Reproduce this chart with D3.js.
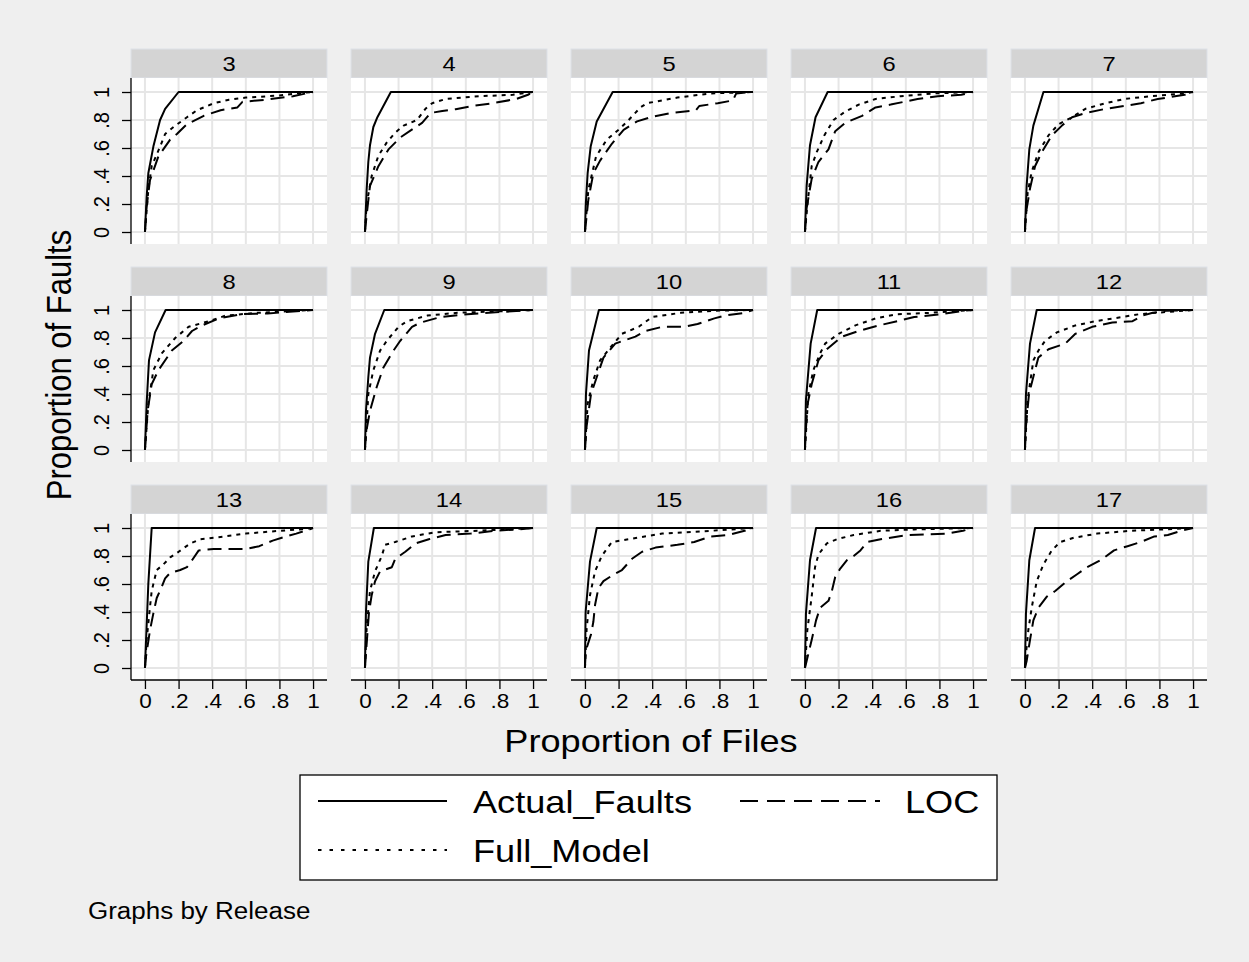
<!DOCTYPE html>
<html>
<head>
<meta charset="utf-8">
<script src="https://cdn.jsdelivr.net/npm/d3@7"></script>
<style>
  html, body { margin: 0; padding: 0; background: #efefef; }
  svg { display: block; }
  text { font-family: "Liberation Sans", Arial, Helvetica, sans-serif; fill: #000; }
</style>
</head>
<body>
<svg id="chart" width="1249" height="962"></svg>
<script>
// ---------------- DATA ----------------
const releases = ["3","4","5","6","7","8","9","10","11","12","13","14","15","16","17"];
const seriesNames = ["Actual_Faults", "Full_Model", "LOC"];
const xTickValues = [0, 0.2, 0.4, 0.6, 0.8, 1];
const xTickLabels = ["0", ".2", ".4", ".6", ".8", "1"];
const yTickValues = [0, 0.2, 0.4, 0.6, 0.8, 1];
const yTickLabels = ["0", ".2", ".4", ".6", ".8", "1"];

// [proportion of files, proportion of faults] per release
const actualFaults = [
  [[0,0],[0.01,0.25],[0.02,0.42],[0.05,0.61],[0.09,0.8],[0.12,0.88],[0.2,1],[1,1]],
  [[0,0],[0.01,0.3],[0.02,0.5],[0.03,0.62],[0.05,0.75],[0.074,0.82],[0.154,1],[1,1]],
  [[0,0],[0.005,0.2],[0.016,0.42],[0.034,0.61],[0.07,0.79],[0.165,1],[1,1]],
  [[0,0],[0.01,0.33],[0.03,0.62],[0.063,0.82],[0.135,1],[1,1]],
  [[0,0],[0.01,0.33],[0.026,0.59],[0.05,0.76],[0.11,1],[1,1]],
  [[0,0],[0.01,0.33],[0.024,0.64],[0.06,0.84],[0.123,1],[1,1]],
  [[0,0],[0.006,0.28],[0.02,0.52],[0.03,0.66],[0.06,0.83],[0.115,1],[1,1]],
  [[0,0],[0.006,0.4],[0.024,0.71],[0.083,1],[1,1]],
  [[0,0],[0.006,0.36],[0.034,0.76],[0.073,1],[1,1]],
  [[0,0],[0.006,0.4],[0.03,0.76],[0.07,1],[1,1]],
  [[0,0],[0.02,0.6],[0.04,1],[1,1]],
  [[0,0],[0.006,0.4],[0.02,0.76],[0.053,1],[1,1]],
  [[0,0],[0.004,0.4],[0.03,0.76],[0.07,1],[1,1]],
  [[0,0],[0.006,0.39],[0.03,0.77],[0.066,1],[1,1]],
  [[0,0],[0.006,0.39],[0.026,0.77],[0.06,1],[1,1]]
];
const fullModel = [
  [[0,0],[0.01,0.15],[0.02,0.3],[0.04,0.47],[0.09,0.61],[0.12,0.7],[0.17,0.75],[0.25,0.82],[0.31,0.87],[0.41,0.92],[0.5,0.945],[0.6,0.96],[0.8,0.975],[0.9,0.99],[1,1]],
  [[0,0],[0.01,0.2],[0.04,0.4],[0.08,0.545],[0.13,0.64],[0.18,0.71],[0.23,0.76],[0.31,0.8],[0.36,0.88],[0.4,0.92],[0.48,0.95],[0.68,0.97],[0.88,0.98],[1,1]],
  [[0,0],[0.01,0.15],[0.02,0.3],[0.066,0.54],[0.13,0.66],[0.2,0.73],[0.26,0.8],[0.33,0.89],[0.37,0.92],[0.55,0.96],[0.75,0.99],[1,1]],
  [[0,0],[0.016,0.21],[0.04,0.47],[0.07,0.57],[0.115,0.69],[0.17,0.8],[0.24,0.86],[0.32,0.91],[0.42,0.95],[0.57,0.97],[0.77,0.99],[1,1]],
  [[0,0],[0.016,0.28],[0.04,0.43],[0.08,0.57],[0.14,0.69],[0.2,0.77],[0.28,0.82],[0.36,0.88],[0.48,0.92],[0.59,0.95],[0.75,0.97],[0.95,0.99],[1,1]],
  [[0,0],[0.02,0.33],[0.05,0.57],[0.1,0.69],[0.18,0.8],[0.26,0.88],[0.38,0.92],[0.48,0.96],[0.67,0.98],[1,1]],
  [[0,0],[0.006,0.1],[0.02,0.4],[0.05,0.57],[0.09,0.71],[0.13,0.78],[0.2,0.88],[0.25,0.92],[0.37,0.96],[0.55,0.98],[1,1]],
  [[0,0],[0.016,0.33],[0.05,0.5],[0.09,0.64],[0.15,0.73],[0.22,0.83],[0.32,0.88],[0.4,0.95],[0.57,0.98],[0.77,0.995],[1,1]],
  [[0,0],[0.02,0.4],[0.05,0.57],[0.09,0.69],[0.12,0.76],[0.2,0.83],[0.3,0.89],[0.42,0.94],[0.55,0.97],[0.75,0.98],[1,1]],
  [[0,0],[0.016,0.36],[0.05,0.64],[0.08,0.71],[0.12,0.78],[0.19,0.84],[0.3,0.89],[0.42,0.92],[0.58,0.95],[0.68,0.97],[0.78,0.98],[1,1]],
  [[0,0],[0.01,0.2],[0.026,0.39],[0.04,0.55],[0.07,0.7],[0.11,0.74],[0.15,0.79],[0.2,0.83],[0.27,0.89],[0.33,0.92],[0.41,0.93],[0.6,0.96],[0.8,0.98],[0.92,0.99],[1,1]],
  [[0,0],[0.01,0.28],[0.03,0.55],[0.06,0.69],[0.1,0.8],[0.12,0.88],[0.18,0.9],[0.28,0.94],[0.42,0.97],[0.67,0.98],[1,1]],
  [[0,0],[0.01,0.28],[0.03,0.52],[0.06,0.69],[0.1,0.8],[0.16,0.9],[0.26,0.92],[0.46,0.96],[0.75,0.98],[1,1]],
  [[0,0],[0.014,0.27],[0.04,0.51],[0.06,0.72],[0.08,0.81],[0.13,0.89],[0.19,0.92],[0.29,0.95],[0.45,0.98],[0.65,0.99],[1,1]],
  [[0,0],[0.006,0.1],[0.02,0.27],[0.04,0.43],[0.07,0.62],[0.11,0.74],[0.16,0.84],[0.21,0.9],[0.29,0.93],[0.43,0.96],[0.63,0.98],[0.83,0.99],[1,1]]
];
const locModel = [
  [[0,0],[0.01,0.18],[0.03,0.37],[0.08,0.54],[0.15,0.66],[0.19,0.7],[0.25,0.77],[0.35,0.83],[0.45,0.87],[0.55,0.89],[0.58,0.93],[0.72,0.945],[0.88,0.97],[1,1]],
  [[0,0],[0.01,0.12],[0.03,0.33],[0.08,0.47],[0.14,0.59],[0.21,0.675],[0.34,0.78],[0.39,0.85],[0.46,0.865],[0.54,0.877],[0.64,0.9],[0.76,0.92],[0.9,0.95],[0.97,0.98],[1,1]],
  [[0,0],[0.02,0.23],[0.05,0.42],[0.09,0.51],[0.16,0.63],[0.23,0.73],[0.31,0.79],[0.39,0.82],[0.51,0.85],[0.66,0.87],[0.68,0.9],[0.79,0.92],[0.88,0.94],[0.9,0.99],[1,1]],
  [[0,0],[0.01,0.17],[0.04,0.38],[0.08,0.5],[0.14,0.59],[0.18,0.72],[0.24,0.78],[0.34,0.83],[0.42,0.89],[0.51,0.91],[0.67,0.95],[0.79,0.97],[0.93,0.98],[1,1]],
  [[0,0],[0.004,0.12],[0.03,0.31],[0.06,0.47],[0.1,0.57],[0.16,0.69],[0.22,0.76],[0.28,0.82],[0.36,0.85],[0.48,0.88],[0.59,0.9],[0.69,0.92],[0.79,0.95],[0.95,0.98],[1,1]],
  [[0,0],[0.016,0.28],[0.04,0.47],[0.08,0.57],[0.16,0.71],[0.23,0.78],[0.28,0.85],[0.34,0.89],[0.44,0.94],[0.57,0.97],[0.73,0.975],[1,1]],
  [[0,0],[0.006,0.12],[0.03,0.28],[0.07,0.45],[0.11,0.59],[0.17,0.71],[0.21,0.78],[0.28,0.88],[0.33,0.91],[0.45,0.95],[0.61,0.97],[0.8,0.985],[1,1]],
  [[0,0],[0.01,0.17],[0.036,0.4],[0.07,0.52],[0.11,0.66],[0.18,0.76],[0.3,0.81],[0.36,0.85],[0.46,0.88],[0.59,0.88],[0.67,0.9],[0.77,0.94],[0.83,0.96],[0.95,0.98],[1,1]],
  [[0,0],[0.004,0.12],[0.016,0.33],[0.04,0.47],[0.08,0.64],[0.13,0.72],[0.22,0.81],[0.32,0.85],[0.44,0.89],[0.55,0.92],[0.65,0.95],[0.81,0.97],[0.95,0.995],[1,1]],
  [[0,0],[0.006,0.17],[0.024,0.4],[0.06,0.57],[0.08,0.66],[0.14,0.72],[0.24,0.76],[0.3,0.83],[0.4,0.88],[0.52,0.91],[0.64,0.92],[0.7,0.96],[0.76,0.98],[0.84,0.995],[1,1]],
  [[0,0],[0.006,0.08],[0.03,0.27],[0.05,0.39],[0.07,0.5],[0.1,0.58],[0.12,0.64],[0.15,0.68],[0.21,0.7],[0.25,0.72],[0.28,0.77],[0.32,0.84],[0.41,0.85],[0.6,0.85],[0.68,0.87],[0.76,0.91],[0.84,0.94],[0.9,0.96],[0.98,0.99],[1,1]],
  [[0,0],[0.01,0.17],[0.024,0.4],[0.04,0.52],[0.06,0.62],[0.09,0.69],[0.16,0.72],[0.18,0.78],[0.24,0.83],[0.3,0.89],[0.38,0.92],[0.48,0.95],[0.63,0.96],[0.77,0.98],[0.91,0.99],[1,1]],
  [[0,0],[0.004,0.12],[0.036,0.24],[0.05,0.33],[0.06,0.45],[0.08,0.57],[0.11,0.62],[0.16,0.66],[0.22,0.7],[0.28,0.78],[0.34,0.83],[0.42,0.86],[0.55,0.88],[0.65,0.9],[0.75,0.94],[0.85,0.95],[0.95,0.98],[1,1]],
  [[0,0],[0.01,0.05],[0.04,0.2],[0.066,0.34],[0.09,0.43],[0.14,0.48],[0.16,0.55],[0.18,0.65],[0.21,0.71],[0.25,0.77],[0.29,0.8],[0.33,0.84],[0.37,0.9],[0.45,0.92],[0.61,0.95],[0.84,0.96],[0.94,0.98],[1,1]],
  [[0,0],[0.01,0.05],[0.03,0.2],[0.05,0.34],[0.08,0.43],[0.13,0.51],[0.18,0.55],[0.25,0.62],[0.31,0.67],[0.37,0.72],[0.45,0.77],[0.53,0.84],[0.61,0.87],[0.69,0.9],[0.77,0.94],[0.85,0.95],[0.93,0.98],[1,1]]
];

// ---------------- LAYOUT ----------------
const SX = 1.13; // horizontal stretch of glyphs seen in the reference
const svg = d3.select("#chart");
svg.append("rect").attr("width", 1249).attr("height", 962).attr("fill", "#efefef");

const nCols = 5, nRows = 3;
const panelLeft0 = 131, colStep = 220, panelW = 196;
const headerTop0 = 49, rowStep = 218, headerH = 29, plotH = 166;

const styles = [
  { dash: null },
  { dash: "4,5" },
  { dash: "14,7" }
];
const seriesData = [actualFaults, fullModel, locModel];

function hText(parent, x, y, str, size, anchor) {
  return parent.append("text")
    .attr("transform", `translate(${x},${y}) scale(${SX},1)`)
    .attr("text-anchor", anchor || "start")
    .style("font-size", size + "px").text(str);
}

releases.forEach((rel, i) => {
  const col = i % nCols, row = Math.floor(i / nCols);
  const left = panelLeft0 + col * colStep;
  const hTop = headerTop0 + row * rowStep;
  const pTop = hTop + headerH;
  const pBot = pTop + plotH;

  const x = d3.scaleLinear().domain([-0.083, 1.083]).range([left, left + panelW]);
  const y = d3.scaleLinear().domain([-0.0857, 1.1]).range([pBot, pTop]);

  const g = svg.append("g");
  // header strip
  g.append("rect").attr("x", left).attr("y", hTop).attr("width", panelW).attr("height", headerH)
    .attr("fill", "#d4d4d4").attr("stroke", "#dde1e8").attr("stroke-width", 1);
  hText(g, left + panelW / 2, hTop + 22, rel, 21, "middle");

  // plot background
  g.append("rect").attr("x", left).attr("y", pTop).attr("width", panelW).attr("height", plotH)
    .attr("fill", "#ffffff");

  // grid lines
  g.append("g").selectAll("line").data(xTickValues).join("line")
    .attr("x1", d => x(d)).attr("x2", d => x(d)).attr("y1", pTop).attr("y2", pBot)
    .attr("stroke", "#e6e6e6").attr("stroke-width", 2);
  g.append("g").selectAll("line").data(yTickValues).join("line")
    .attr("y1", d => y(d)).attr("y2", d => y(d)).attr("x1", left).attr("x2", left + panelW)
    .attr("stroke", "#e6e6e6").attr("stroke-width", 2);

  // curves
  const line = d3.line().x(d => x(d[0])).y(d => y(d[1]));
  seriesData.forEach((s, k) => {
    g.append("path").datum(s[i]).attr("d", line)
      .attr("fill", "none").attr("stroke", "#000").attr("stroke-width", 2)
      .attr("stroke-linejoin", "round")
      .attr("stroke-dasharray", styles[k].dash);
  });

  // y axis on first column
  if (col === 0) {
    const yAxis = d3.axisLeft(y).tickValues(yTickValues).tickFormat((d, j) => yTickLabels[j])
      .tickSize(9).tickPadding(4);
    const ga = g.append("g").attr("transform", `translate(${left},0)`).call(yAxis);
    ga.select(".domain").attr("d", `M0,${pTop}V${pBot}`).attr("stroke", "#000").attr("stroke-width", 1.3);
    ga.selectAll(".tick line").attr("stroke", "#000").attr("stroke-width", 1.3);
    ga.selectAll(".tick text")
      .attr("x", null).attr("dy", null).attr("y", 0)
      .attr("transform", `translate(-22,0) scale(${SX},1) rotate(-90)`)
      .attr("text-anchor", "middle")
      .style("font-size", "20px")
      .style("font-family", "'Liberation Sans', Arial, sans-serif");
  }
  // x axis on bottom row
  if (row === nRows - 1) {
    const xAxis = d3.axisBottom(x).tickValues(xTickValues).tickFormat((d, j) => xTickLabels[j])
      .tickSize(9).tickPadding(6);
    const ga = g.append("g").attr("transform", `translate(0,${pBot})`).call(xAxis);
    ga.select(".domain").attr("d", `M${left},0H${left + panelW}`).attr("stroke", "#000").attr("stroke-width", 1.3);
    ga.selectAll(".tick line").attr("stroke", "#000").attr("stroke-width", 1.3);
    ga.selectAll(".tick text")
      .attr("y", null).attr("dy", null)
      .attr("transform", `translate(0,28) scale(${SX},1)`)
      .style("font-size", "20px")
      .style("font-family", "'Liberation Sans', Arial, sans-serif");
  }
});

// axis titles
svg.append("text").attr("transform", `translate(71,365) scale(${SX},1) rotate(-90)`)
  .attr("text-anchor", "middle").style("font-size", "31px").text("Proportion of Faults");
hText(svg, 651, 752, "Proportion of Files", 32, "middle");

// legend
const lg = svg.append("g");
lg.append("rect").attr("x", 300).attr("y", 775).attr("width", 697).attr("height", 105)
  .attr("fill", "#fff").attr("stroke", "#000").attr("stroke-width", 1.3);
const legendItems = [
  { name: seriesNames[0], k: 0, x1: 318, x2: 447, ly: 801, tx: 473 },
  { name: seriesNames[2], k: 2, x1: 740, x2: 880, ly: 801, tx: 905 },
  { name: seriesNames[1], k: 1, x1: 318, x2: 447, ly: 850, tx: 473 }
];
legendItems.forEach(it => {
  lg.append("line").attr("x1", it.x1).attr("x2", it.x2).attr("y1", it.ly).attr("y2", it.ly)
    .attr("stroke", "#000").attr("stroke-width", 2)
    .attr("stroke-dasharray", it.k === 2 ? "18,9" : (it.k === 1 ? "3.5,8" : null));
  hText(lg, it.tx, it.ly + 12, it.name, 32, "start");
});

// note
hText(svg, 88, 919, "Graphs by Release", 23, "start");
</script>
</body>
</html>
